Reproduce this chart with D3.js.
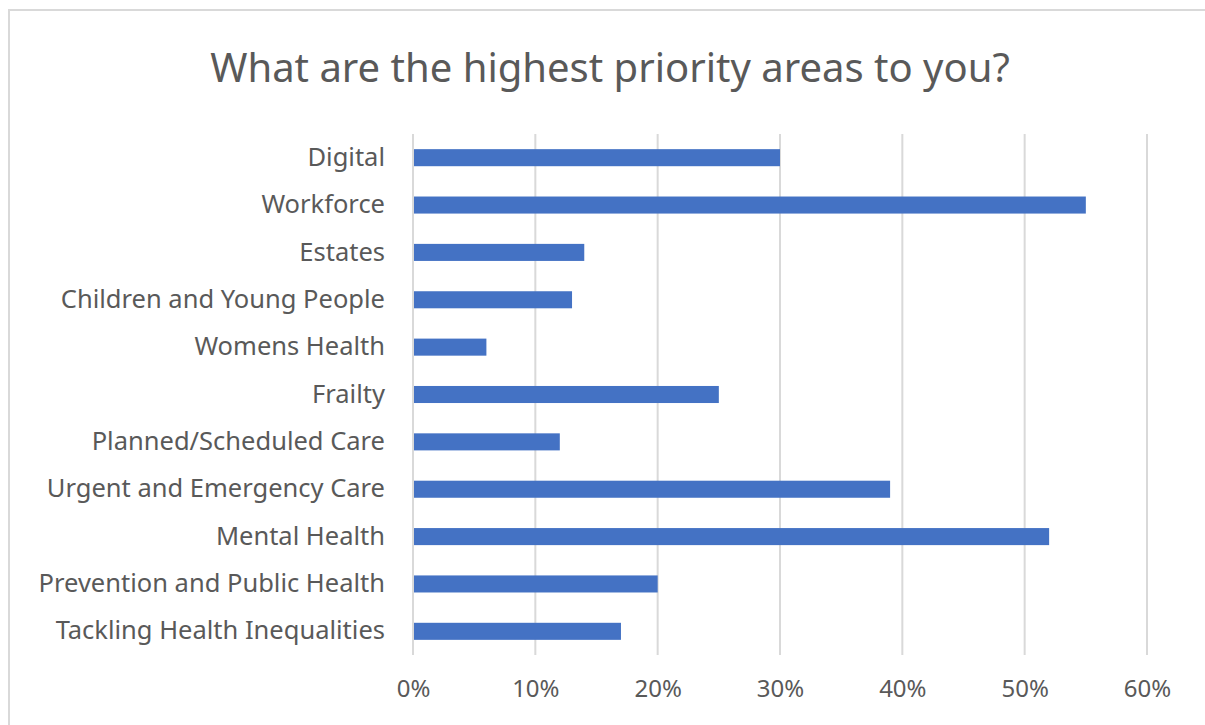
<!DOCTYPE html>
<html>
<head>
<meta charset="utf-8">
<script src="https://cdn.jsdelivr.net/npm/d3@7"></script>
<style>
  body { margin: 0; background: #fff; }
  text { font-family: "Noto Sans", "Open Sans", sans-serif; fill: #595959; }
</style>
</head>
<body>
<div id="chart"></div>
<script>
'use strict';

// data
const categories = [
  'Digital',
  'Workforce',
  'Estates',
  'Children and Young People',
  'Womens Health',
  'Frailty',
  'Planned/Scheduled Care',
  'Urgent and Emergency Care',
  'Mental Health',
  'Prevention and Public Health',
  'Tackling Health Inequalities'
];
const values = [0.30, 0.55, 0.14, 0.13, 0.06, 0.25, 0.12, 0.39, 0.52, 0.20, 0.17];
const tickValues = [0, 0.1, 0.2, 0.3, 0.4, 0.5, 0.6];
const title = 'What are the highest priority areas to you?';

const W = 1205, H = 725;
const margin = {top: 134, right: 58, bottom: 70, left: 413};

const svg = d3.select('#chart').append('svg')
    .attr('width', W)
    .attr('height', H);

// chart border (top + left visible in the crop)
svg.append('path')
    .attr('d', 'M9,' + H + 'V10H' + W)
    .attr('fill', 'none')
    .attr('stroke', '#d9d9d9')
    .attr('stroke-width', 2);

svg.append('text')
    .attr('x', 610)
    .attr('y', 82)
    .attr('text-anchor', 'middle')
    .style('font-size', '40px')
    .text(title);

const x = d3.scaleLinear()
    .domain([0, 0.6])
    .range([margin.left, 1147]);

const y = d3.scaleBand()
    .domain(categories)
    .range([margin.top, 655])
    .paddingInner(0.64)
    .paddingOuter(0.32);

// gridlines
svg.append('g')
    .selectAll('line')
    .data(tickValues)
  .enter().append('line')
    .attr('x1', d => x(d))
    .attr('x2', d => x(d))
    .attr('y1', margin.top)
    .attr('y2', 655)
    .attr('stroke', '#d9d9d9')
    .attr('stroke-width', 2);

// bars
svg.append('g')
    .selectAll('rect')
    .data(values)
  .enter().append('rect')
    .attr('x', x(0) + 1)
    .attr('y', (d, i) => y(categories[i]))
    .attr('width', d => x(d) - x(0) - 1)
    .attr('height', y.bandwidth())
    .attr('fill', '#4472c4');

// x axis labels
const xAxis = svg.append('g')
    .attr('transform', 'translate(0,655)')
    .call(d3.axisBottom(x).tickValues(tickValues).tickFormat(d3.format('.0%')).tickSize(0).tickPadding(25));
xAxis.select('.domain').remove();
xAxis.selectAll('text')
    .style('font-size', '24px')
    .attr('fill', '#595959');

// y axis labels
const yAxis = svg.append('g')
    .attr('transform', 'translate(' + margin.left + ',0)')
    .call(d3.axisLeft(y).tickSize(0).tickPadding(28));
yAxis.select('.domain').remove();
yAxis.selectAll('text')
    .style('font-size', '25.5px')
    .attr('fill', '#595959');
</script>
</body>
</html>
